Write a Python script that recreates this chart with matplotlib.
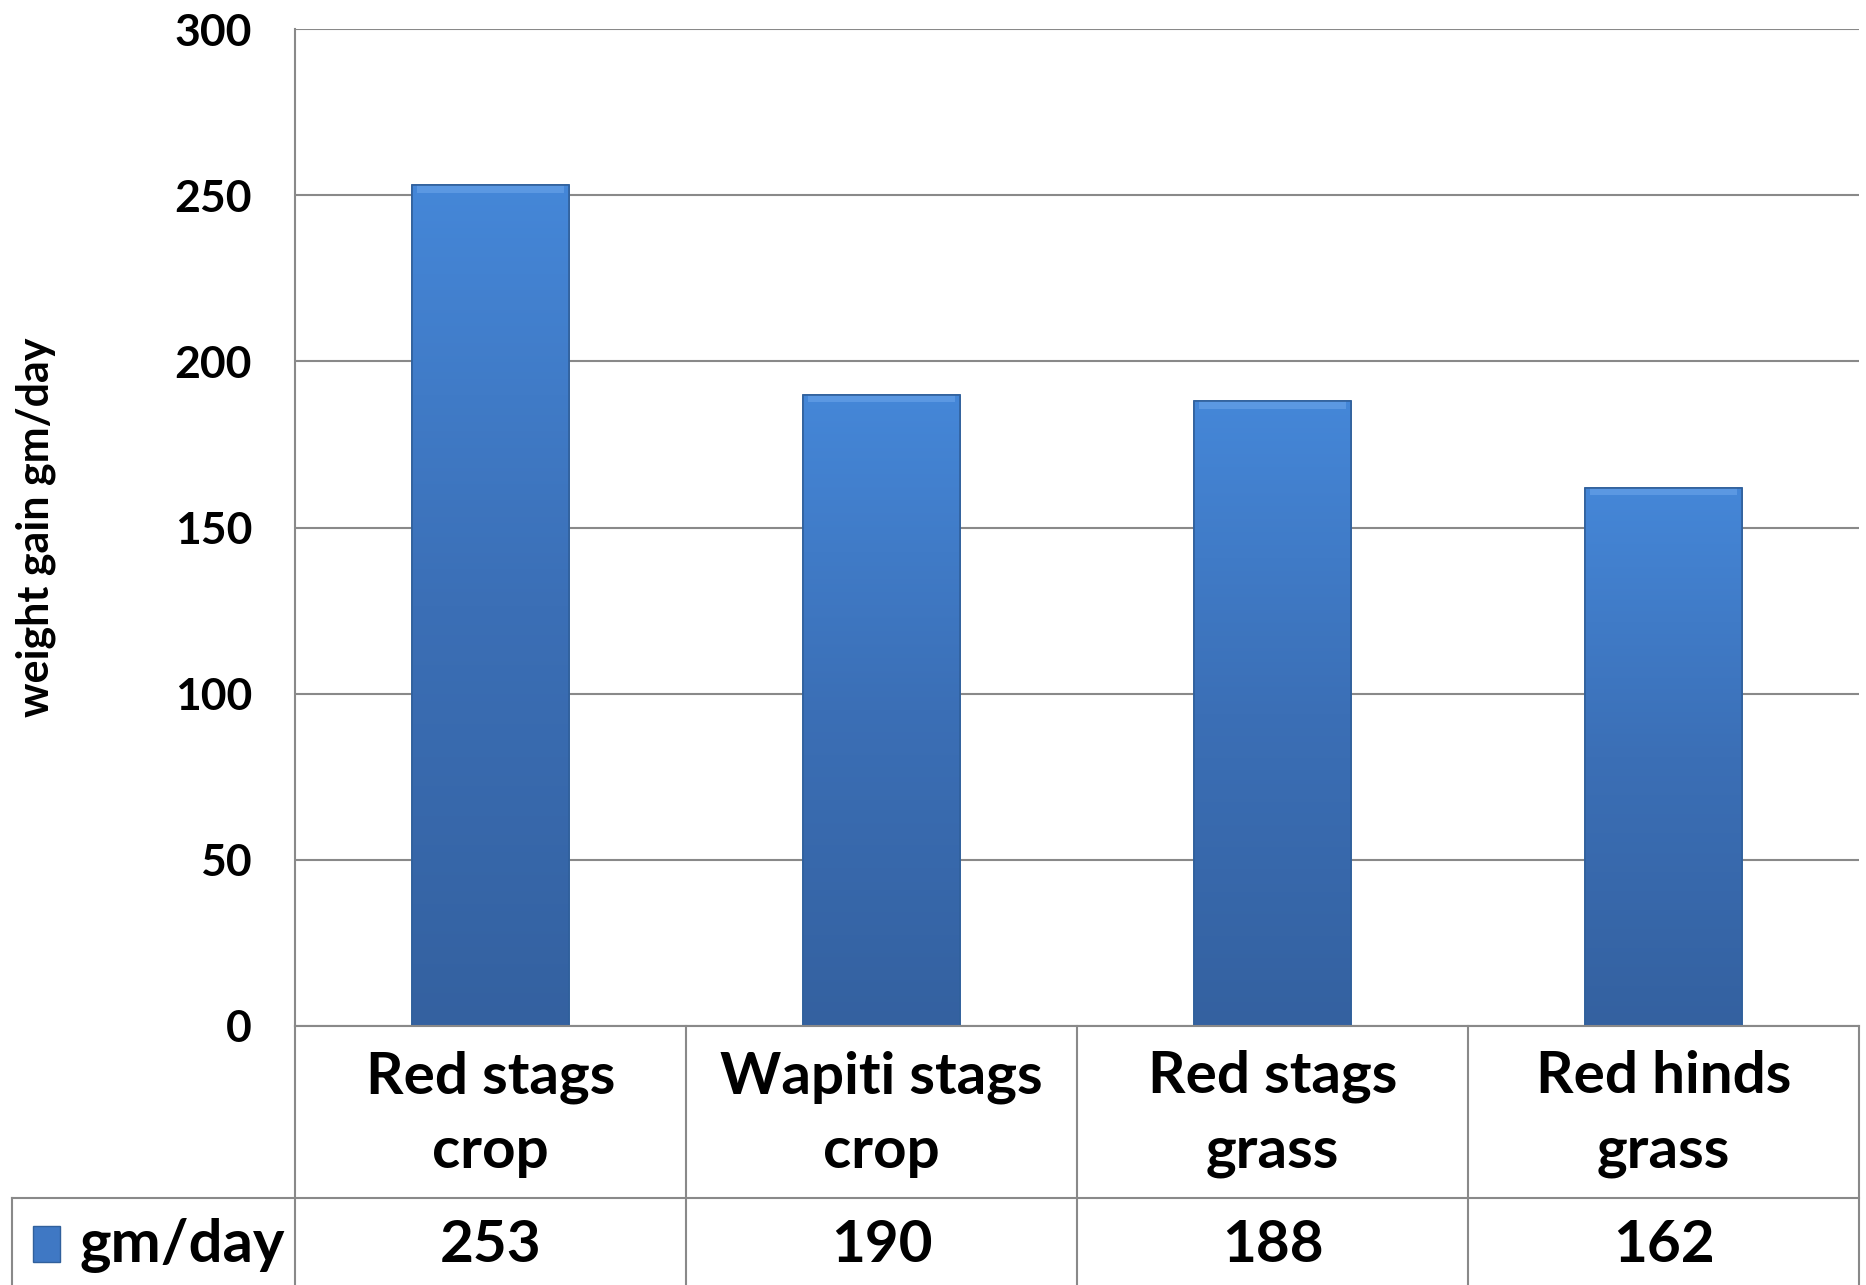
import matplotlib.pyplot as plt
import numpy as np
from matplotlib.colors import LinearSegmentedColormap

plt.rcParams['font.family'] = ['Lato', 'DejaVu Sans']
plt.rcParams['font.weight'] = 'bold'

categories = ['Red stags\ncrop', 'Wapiti stags\ncrop', 'Red stags\ngrass', 'Red hinds\ngrass']
values = [253, 190, 188, 162]
series_name = 'gm/day'
yticks = [0, 50, 100, 150, 200, 250, 300]

W, H = 1866, 1285
fig = plt.figure(figsize=(W / 100, H / 100), dpi=100)

# pixel layout
x0, x1 = 295, 1859
ytop, ybot = 29, 1026
row_split = 1198
leg_left = 12

ax = fig.add_axes([x0 / W, 1 - ybot / H, (x1 - x0) / W, (ybot - ytop) / H])
ax.set_xlim(0, 4)
ax.set_ylim(0, 300)
grid_c = '#898989'

ax.set_yticks(yticks)
ax.set_xticks([])
ax.tick_params(axis='y', length=0, pad=31, labelsize=32)
for lbl in ax.get_yticklabels():
    lbl.set_fontweight('bold')
ax.yaxis.grid(True, color=grid_c, lw=1.5)
ax.set_axisbelow(True)
for s in ['right', 'bottom', 'top']:
    ax.spines[s].set_visible(False)
ax.spines['left'].set_color(grid_c)
ax.spines['left'].set_linewidth(1.5)

ax.set_ylabel('weight gain gm/day', fontsize=31, fontweight='bold', labelpad=85)

xpos = np.arange(len(values)) + 0.5
bars = ax.bar(xpos, values, width=0.4, color='#3f78c4', edgecolor='#30609c', lw=1.2, zorder=2)

cmap = LinearSegmentedColormap.from_list('bar', ['#3461a0', '#3b6fb6', '#4587d8'])
grad = np.linspace(0, 1, 256).reshape(-1, 1)
for b in bars:
    bx, bw, bh = b.get_x(), b.get_width(), b.get_height()
    im = ax.imshow(grad, cmap=cmap, origin='lower', aspect='auto',
                   extent=[bx, bx + bw, 0, bh], zorder=2.5)
    im.set_clip_path(b)
    # light bevel on top
    ax.fill_between([bx + 0.012, bx + bw - 0.012], bh - 2.2, bh, color='#5b98e2', zorder=3, lw=0)
    ax.plot([bx, bx + bw, bx + bw, bx, bx], [0, 0, bh, bh, 0], color='#30609c', lw=1.2, zorder=3.5)
ax.set_xlim(0, 4)
ax.set_ylim(0, 300)

# data table under the chart
unit = (x1 - x0) / 4
tleft = -(x0 - leg_left) / unit
tax = fig.add_axes([leg_left / W, 0, (x1 - leg_left) / W, (H - ybot) / H])
tax.set_xlim(tleft, 4)
tax.set_ylim(0, H - ybot)
tax.axis('off')
mid = H - row_split
top = H - ybot
kw = dict(color=grid_c, lw=1.5, clip_on=False)
tax.plot([0, 4], [top, top], **kw)
tax.plot([tleft, 4], [mid, mid], **kw)
tax.plot([tleft, tleft], [0, mid], **kw)
for i in range(5):
    tax.plot([i, i], [0, top], **kw)
for i, (c, v) in enumerate(zip(categories, values)):
    tax.text(i + 0.5, (mid + top) / 2 - 2, c, ha='center', va='center',
             fontsize=42, fontweight='bold', linespacing=1.5)
    tax.text(i + 0.5, mid / 2 - 4, str(v), ha='center', va='center',
             fontsize=42, fontweight='bold')

# legend key
kx = tleft + 21 / unit
tax.add_patch(plt.Rectangle((kx, mid / 2 - 20), 27 / unit, 36, facecolor='#3f78c4',
                            edgecolor='#30609c', lw=1, clip_on=False))
tax.text(kx + 46 / unit, mid / 2 - 4, series_name, ha='left', va='center',
         fontsize=43, fontweight='bold')

fig.savefig('out.png', dpi=100)
